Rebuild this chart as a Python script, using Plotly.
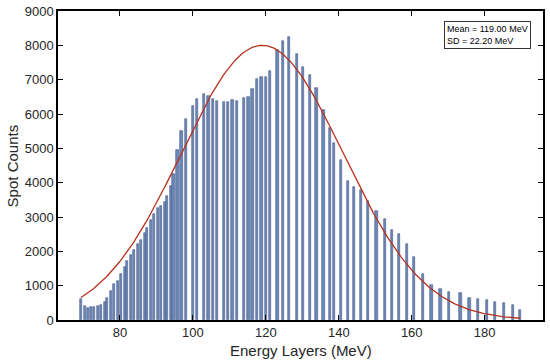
import numpy as np
import plotly.graph_objects as go

energy_mev = [69.32, 70.41, 71.15, 72.05, 72.79, 73.97, 74.71, 75.81, 76.52, 77.62,
              78.36, 79.45, 80.19, 81.29, 82.00, 83.10, 83.84, 84.93, 85.67, 86.77,
              87.48, 88.58, 89.32, 90.41, 91.15, 92.25, 92.96, 93.97, 94.66, 95.75,
              96.90, 98.16, 100.00, 101.18, 103.10, 104.30, 105.48, 106.66, 108.49, 109.67,
              110.88, 112.14, 114.05, 115.26, 116.36, 117.62, 118.82, 120.00, 121.18, 123.21,
              124.79, 126.44, 128.49, 130.27, 132.05, 133.92, 135.84, 137.67, 138.71, 140.55,
              142.47, 144.19, 146.03, 148.03, 150.33, 152.60, 154.60, 156.44, 158.71, 160.63,
              163.10, 165.40, 167.86, 170.22, 173.34, 175.81, 178.16, 180.55, 182.93, 185.29,
              187.75, 189.67]
spot_counts = [620, 410, 350, 370, 370, 410, 450, 520, 630, 845,
               1040, 1140, 1330, 1545, 1720, 1885, 2040, 2200, 2330, 2520,
               2690, 2900, 3080, 3250, 3330, 3450, 3600, 3900, 4240, 4950,
               5510, 5860, 6230, 6440, 6590, 6530, 6430, 6390, 6340, 6360,
               6400, 6390, 6460, 6500, 6720, 7020, 7090, 7070, 7260, 7860,
               8120, 8250, 7750, 7380, 7140, 6750, 6120, 5590, 5170, 4660,
               4060, 3870, 3800, 3480, 3180, 2940, 2620, 2500, 2220, 1830,
               1340, 1020, 890, 810, 790, 650, 610, 590, 520, 500,
               450, 290]

fit_mean = 119.0
fit_sd = 22.2
fit_peak = 8000
x_ticks = [80, 100, 120, 140, 160, 180]
y_ticks = [0, 1000, 2000, 3000, 4000, 5000, 6000, 7000, 8000, 9000]

fit_x = np.linspace(min(energy_mev), max(energy_mev), 300)
fit_y = fit_peak * np.exp(-((fit_x - fit_mean) ** 2) / (2 * fit_sd ** 2))

FONT = "Liberation Sans, Arial, sans-serif"

fig = go.Figure()
fig.add_trace(go.Bar(x=energy_mev, y=spot_counts, width=0.62,
                     marker=dict(color="#6a88b8", line=dict(color="#46598a", width=0.6)),
                     showlegend=False))
fig.add_trace(go.Scatter(x=fit_x, y=fit_y, mode="lines",
                         line=dict(color="#b8311f", width=1.3), showlegend=False))

axis_common = dict(showline=True, linecolor="black", linewidth=1.5, mirror="ticks",
                   ticks="inside", ticklen=5, tickwidth=1.2, tickcolor="black",
                   showgrid=False, zeroline=False, automargin=False,
                   tickfont=dict(family=FONT, size=13, color="#262626"))

fig.update_xaxes(range=[63.0, 196.0], tickvals=x_ticks, ticktext=[str(v) for v in x_ticks],
                 **axis_common)
fig.update_yaxes(range=[0, 9000], tickvals=y_ticks, ticktext=[str(v) for v in y_ticks],
                 **axis_common)

fig.add_annotation(xref="paper", yref="paper", x=0.5, y=-0.064, xanchor="center", yanchor="top",
                   text="Energy Layers (MeV)", showarrow=False,
                   font=dict(family=FONT, size=15, color="#262626"))
fig.add_annotation(xref="paper", yref="paper", x=-0.093, y=0.5, xanchor="center", yanchor="middle",
                   text="Spot Counts", showarrow=False, textangle=-90,
                   font=dict(family=FONT, size=15, color="#262626"))

fig.add_annotation(xref="paper", yref="paper", x=0.795, y=0.968, xanchor="left", yanchor="top",
                   text=f"Mean = {fit_mean:.2f} MeV<br>SD = {fit_sd:.2f} MeV",
                   showarrow=False, align="left",
                   font=dict(family=FONT, size=9, color="black"),
                   bordercolor="#333333", borderwidth=1, borderpad=2, bgcolor="white")

fig.update_layout(width=550, height=360, margin=dict(l=58, r=7, t=11, b=40),
                  plot_bgcolor="white", paper_bgcolor="white", bargap=0)

fig.write_html("out.html", config={"displayModeBar": False},
               post_script="document.body.style.margin='0';document.body.style.padding='0';")
